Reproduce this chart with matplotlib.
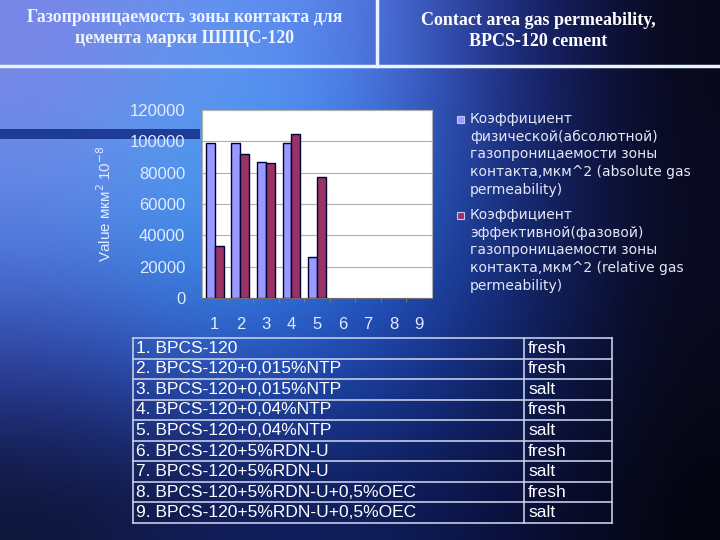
import numpy as np
import matplotlib.pyplot as plt
from matplotlib.colors import to_rgb
from matplotlib.patches import Rectangle

plt.rcParams['font.family'] = ['Liberation Sans', 'DejaVu Sans']

# data
cats = ['1', '2', '3', '4', '5', '6', '7', '8', '9']
absolute = [99000, 99000, 87000, 99000, 26000]
relative = [33000, 92000, 86000, 104500, 77500]
legend_abs = ['Коэффициент', 'физической(абсолютной)', 'газопроницаемости зоны',
              'контакта,мкм^2 (absolute gas', 'permeability)']
legend_rel = ['Коэффициент', 'эффективной(фазовой)', 'газопроницаемости зоны',
              'контакта,мкм^2 (relative gas', 'permeability)']
samples = ['1. BPCS-120', '2. BPCS-120+0,015%NTP', '3. BPCS-120+0,015%NTP',
           '4. BPCS-120+0,04%NTP', '5. BPCS-120+0,04%NTP', '6. BPCS-120+5%RDN-U',
           '7. BPCS-120+5%RDN-U', '8. BPCS-120+5%RDN-U+0,5%OEC',
           '9. BPCS-120+5%RDN-U+0,5%OEC']
water = ['fresh', 'fresh', 'salt', 'fresh', 'salt', 'fresh', 'salt', 'fresh', 'salt']

W, H = 720, 540
fig = plt.figure(figsize=(7.2, 5.4), dpi=100)

# background slide
bg = fig.add_axes([0, 0, 1, 1])
grid = [
    ['#7a86e6', '#5f98f0', '#5a80ee', '#1c2a86', '#070716'],
    ['#6a8ce8', '#4aa2f2', '#3c82f0', '#1a2c84', '#08081c'],
    ['#4a72d8', '#3a8ce8', '#2a62d8', '#162a78', '#09091e'],
    ['#283894', '#2a52c0', '#1a42a8', '#10226a', '#070716'],
    ['#0e1538', '#121c58', '#0f1e5a', '#0a1040', '#05050f'],
]
g = np.array([[to_rgb(c) for c in row] for row in grid])
bg.imshow(g, extent=[0, W, H, 0], interpolation='bicubic', aspect='auto')
bg.set_xlim(0, W)
bg.set_ylim(H, 0)
bg.axis('off')

# slide decoration
bg.plot([0, W], [65.5, 65.5], color='#e8f4ff', lw=2.5)
bg.plot([377, 377], [0, 65.5], color='#e8f4ff', lw=2.5)
bg.add_patch(Rectangle((0, 129), 200, 10, color='#1e3c96', lw=0))

# titles
bg.text(185, 28, 'Газопроницаемость зоны контакта для\nцемента марки ШПЦС-120',
        ha='center', va='center', color='#eef4ff', fontsize=12.8, fontweight='bold',
        family='Liberation Serif', linespacing=1.3)
bg.text(538, 31, 'Contact area gas permeability,\nBPCS-120 cement',
        ha='center', va='center', color='#ffffff', fontsize=13, fontweight='bold',
        family='Liberation Serif', linespacing=1.3)

# legend
for y0, col, lines in [(119, '#9999ff', legend_abs), (215, '#993366', legend_rel)]:
    bg.add_patch(Rectangle((457, y0 - 3.5), 7, 7, facecolor=col, edgecolor='#c8c8e8', lw=0.8))
    for i, s in enumerate(lines):
        bg.text(470, y0 + i * 17.7, s, ha='left', va='center', color='#e4e8f4',
                fontsize=10, family='DejaVu Sans')

# table
tl, tr, td, tt, tb = 133, 612, 524, 338, 523
rh = (tb - tt) / len(samples)
lc = '#c4cce4'
for i in range(len(samples) + 1):
    bg.plot([tl, tr], [tt + i * rh, tt + i * rh], color=lc, lw=1.2)
for x in [tl, td, tr]:
    bg.plot([x, x], [tt, tb], color=lc, lw=1.2)
for i, (s, w) in enumerate(zip(samples, water)):
    yc = tt + (i + 0.5) * rh
    bg.text(tl + 3, yc, s, ha='left', va='center', color='white', fontsize=12.5)
    bg.text(td + 4, yc, w, ha='left', va='center', color='white', fontsize=12.5)

# chart
ax = fig.add_axes([202 / W, (H - 298) / H, 230 / W, 188 / H])
ax.set_facecolor('white')
x = np.arange(1, len(absolute) + 1)
bw = 0.35
ax.bar(x - bw / 2, absolute, bw, color='#9999ff', edgecolor='#000033', lw=1, zorder=3)
ax.bar(x + bw / 2, relative, bw, color='#993366', edgecolor='#000033', lw=1, zorder=3)
ax.set_xlim(0.5, 9.5)
ax.set_ylim(0, 120000)
ax.set_yticks(np.arange(0, 120001, 20000))
ax.set_xticks(np.arange(1, 10))
ax.set_xticklabels(cats)
ax.set_xticks(np.arange(1.5, 9.5, 1), minor=True)
ax.yaxis.grid(True, color='#b0b0b0', lw=0.8, zorder=0)
ax.tick_params(axis='both', which='major', length=0, colors='#e2ecff', labelsize=12)
ax.tick_params(axis='y', pad=12)
ax.tick_params(axis='x', pad=14)
ax.tick_params(axis='x', which='minor', length=3, color='#808080', direction='out')
for sp in ax.spines.values():
    sp.set_color('#b0b0b0')
    sp.set_linewidth(0.8)
ax.spines['bottom'].set_color('#707070')
ax.set_ylabel('Value мкм$^{2}$ 10$^{-8}$', color='#e2ecff', fontsize=11, labelpad=11)

fig.savefig('out.png', dpi=100)
